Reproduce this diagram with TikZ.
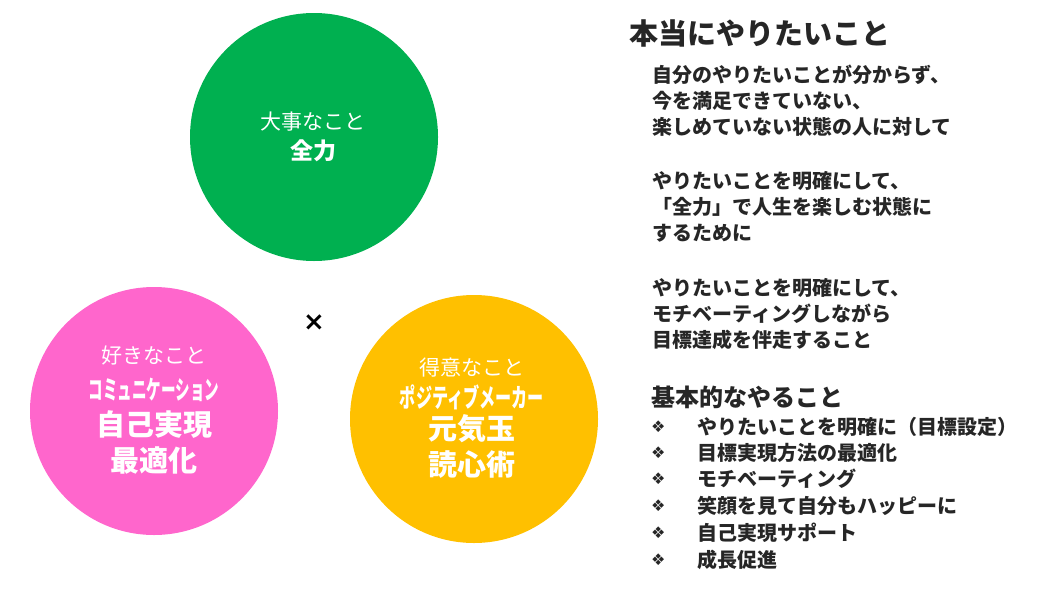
\documentclass[tikz,border=0pt]{standalone}
\usepackage{fontspec}
\setmainfont{Noto Sans CJK JP}
\newfontfamily\jpb{Noto Sans CJK JP}[FakeBold=0]
\newfontfamily\dejavu{DejaVu Sans}
\definecolor{cgreen}{HTML}{00B050}
\definecolor{cpink}{HTML}{FF66CC}
\definecolor{corange}{HTML}{FFC000}
\definecolor{ctext}{HTML}{262626}
\tikzset{
 circ/.style={circle,minimum size=248pt,inner sep=0},
 wt/.style={text=white,inner sep=0,anchor=center},
 rt/.style={text=ctext,inner sep=0,anchor=west,font=\bfseries\fontsize{20}{20}\selectfont},
 bul/.style={text=ctext,inner sep=0,anchor=west,font=\dejavu\fontsize{16}{16}\selectfont},
}
\begin{document}
\begin{tikzpicture}[x=1pt,y=-1pt]
\useasboundingbox (0,0) rectangle (1062,608);
\node[circ,fill=cgreen] (g) at (314,137) {};
\node[circ,fill=cpink] (p) at (154,411) {};
\node[circ,fill=corange] (o) at (474,419) {};
\node[wt,font=\fontsize{21}{21}\selectfont] (g1) at (313,122) {大事なこと};
\node[wt,font=\bfseries\fontsize{23}{23}\selectfont] (g2) at (313,151) {全力};
\node[wt,font=\fontsize{21}{21}\selectfont] (p1) at (154,356) {好きなこと};
\node[wt,font=\bfseries\fontsize{26}{26}\selectfont] (p2) at (154,390) {\scalebox{0.56}[1]{コミュニケーション}};
\node[wt,font=\bfseries\fontsize{29}{29}\selectfont] (p3) at (154,425) {自己実現};
\node[wt,font=\bfseries\fontsize{29}{29}\selectfont] (p4) at (154,461) {最適化};
\node[wt,font=\fontsize{21}{21}\selectfont] (o1) at (472,368) {得意なこと};
\node[wt,font=\bfseries\fontsize{26}{26}\selectfont] (o2) at (472,397) {\scalebox{0.62}[1]{ポジティブメーカー}};
\node[wt,font=\bfseries\fontsize{29}{29}\selectfont] (o3) at (472,429) {元気玉};
\node[wt,font=\bfseries\fontsize{29}{29}\selectfont] (o4) at (472,465) {読心術};
\node[inner sep=0,font=\dejavu\bfseries\fontsize{26}{26}\selectfont] (x) at (314,323) {×};
\node[rt,font=\bfseries\fontsize{29}{29}\selectfont] (t) at (629,33) {本当にやりたいこと};
\node[rt] (a1) at (652,75) {自分のやりたいことが分からず、};
\node[rt] (a2) at (652,101) {今を満足できていない、};
\node[rt] (a3) at (652,127) {楽しめていない状態の人に対して};
\node[rt] (b1) at (652,181) {やりたいことを明確にして、};
\node[rt] (b2) at (652,207) {「全力」で人生を楽しむ状態に};
\node[rt] (b3) at (652,233) {するために};
\node[rt] (c1) at (652,288) {やりたいことを明確にして、};
\node[rt] (c2) at (652,314) {モチベーティングしながら};
\node[rt] (c3) at (652,340) {目標達成を伴走すること};
\node[rt,font=\bfseries\fontsize{24}{24}\selectfont] (k) at (651,397) {基本的なやること};
\foreach \y/\t [count=\i] in {427/やりたいことを明確に（目標設定）,453/目標実現方法の最適化,479/モチベーティング,506/笑顔を見て自分もハッピーに,533/自己実現サポート,560/成長促進}{
 \node[bul] (d\i) at (651,\y) {❖};
 \node[rt] (e\i) at (697,\y) {\t};
}
\end{tikzpicture}
\end{document}
